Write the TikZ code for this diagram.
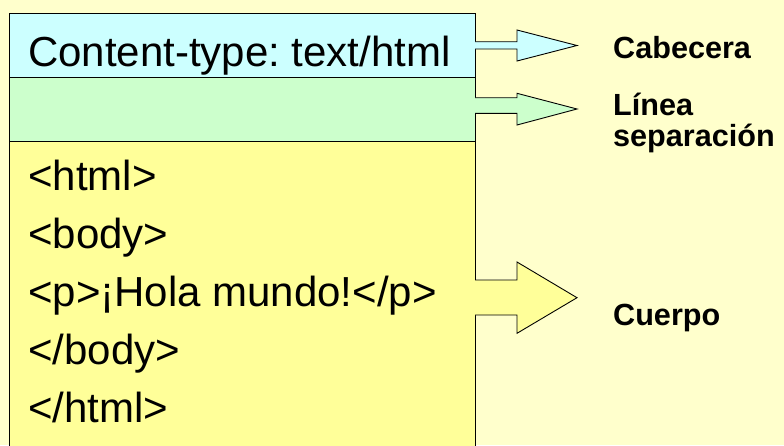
\documentclass[tikz,border=0pt]{standalone}
\usepackage{fontspec}
\setmainfont{Liberation Sans}
\usepackage{xcolor}
\usepackage{tikz}
\usetikzlibrary{positioning}

\definecolor{bgcol}{HTML}{FFFFCC}
\definecolor{headcol}{HTML}{CCFFFF}
\definecolor{sepcol}{HTML}{CCFFCC}
\definecolor{bodycol}{HTML}{FFFF99}

\begin{document}
\begin{tikzpicture}[x=1pt, y=-1pt,
    part/.style={draw=black, line width=0.9pt, minimum width=466pt, inner sep=0pt, outer sep=0pt, anchor=north west},
    code/.style={anchor=base west, inner sep=0pt, font=\fontsize{42}{50}\selectfont\frenchspacing},
    tag/.style={anchor=base west, inner sep=0pt, font=\fontsize{30.6}{36}\selectfont\bfseries},
    block/.style={draw=black, line width=0.9pt, line join=miter}
]
    % Page and background
    \useasboundingbox (0,0) rectangle (784,445);
    \clip (0,0) rectangle (784,445);
    \fill[bgcol] (0,0) rectangle (784,445);

    % Message parts
    \node (head) [part, fill=headcol, minimum height=64pt] at (9,13) {};
    \node (sep) [part, fill=sepcol, minimum height=64pt] at (9,77) {};
    \node (body) [part, fill=bodycol, minimum height=330pt] at (9,141) {};

    % Texts of the message
    \node (ctype) [code] at (28,66) {Content-type: text/html};
    \node (l1) [code] at (28,190) {<html>};
    \node (l2) [code] at (28,248) {<body>};
    \node (l3) [code] at (28,306) {<p>¡Hola mundo!</p>};
    \node (l4) [code] at (28,364) {</body>};
    \node (l5) [code] at (28,422) {</html>};

    % Block arrows
    \draw [block, fill=headcol] (475,41.7) -- (517,41.7) -- (517,30) -- (577,45.5) -- (517,61) -- (517,49) -- (475,49);
    \draw [block, fill=sepcol] (475,97.7) -- (517,97.7) -- (517,93.3) -- (577,109) -- (517,125) -- (517,113.3) -- (475,113.3);
    \draw [block, fill=bodycol] (475,280) -- (517,280) -- (517,262) -- (577,297.7) -- (517,333.3) -- (517,315) -- (475,315);

    % Labels
    \node (cabecera) [tag] at (613,58) {Cabecera};
    \node (linea) [tag] at (613,115) {Línea};
    \node (separacion) [tag] at (613,146.7) {separación};
    \node (cuerpo) [tag] at (613,325) {Cuerpo};
\end{tikzpicture}
\end{document}
